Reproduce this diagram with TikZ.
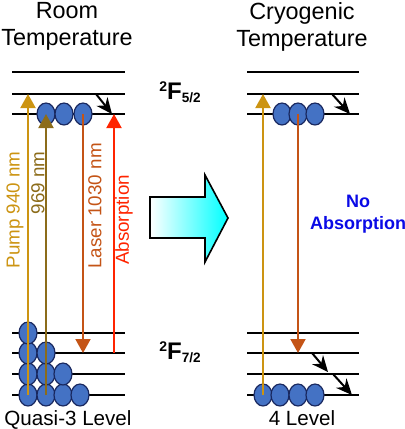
\documentclass[tikz,border=0pt]{standalone}
\usepackage{fontspec}
\setmainfont{Liberation Sans}
\usetikzlibrary{arrows.meta,shapes.geometric}
\definecolor{pumpgold}{RGB}{204,148,18}
\definecolor{oliveline}{RGB}{140,108,26}
\definecolor{laserbrown}{RGB}{196,84,22}
\definecolor{absred}{RGB}{255,36,0}
\definecolor{atomblue}{RGB}{68,114,196}
\definecolor{atomedge}{RGB}{25,40,95}
\definecolor{noblue}{RGB}{10,10,230}
\tikzset{
  level/.style={line width=1.2pt},
  atom/.style={ellipse,draw=atomedge,fill=atomblue,line width=0.6pt,minimum width=9pt,minimum height=11pt,inner sep=0pt},
  beam/.style={line width=1pt,-{Triangle[width=7.5pt,length=7pt]}},
  relax/.style={line width=1pt,-{Stealth[width=7pt,length=8pt]}},
  beamlabel/.style={rotate=90,inner sep=0pt,font=\fontsize{9.4}{10}\selectfont},
  term/.style={inner sep=0pt,font=\bfseries\fontsize{12}{12}\selectfont},
}
\newcommand{\termsym}[2]{{\fontsize{7}{7}\selectfont\raisebox{4pt}{#1}}F{\fontsize{6.8}{7}\selectfont\raisebox{-1.5pt}{#2}}}
\begin{document}
\begin{tikzpicture}[x=0.5pt,y=-0.5pt,font=\fontsize{11.7}{13.5}\selectfont]
\useasboundingbox (0,0) rectangle (405,429);
% titles
\node[align=center,anchor=north,inner sep=0pt] (tRoom) at (67,2) {Room\\Temperature};
\node[align=center,anchor=north,inner sep=0pt] (tCryo) at (302,2) {Cryogenic\\Temperature};
% energy levels
\foreach \y in {72,94,114,333,353,374,395}{
  \draw[level] (12,\y) -- (125,\y);
  \draw[level] (247,\y) -- (359,\y);
}
\node[term] (Fup) at (180,92) {\termsym{2}{5/2}};
\node[term] (Flow) at (180,352) {\termsym{2}{7/2}};
% room temperature: population
\node[atom] (u1) at (46,114) {};
\node[atom] (u2) at (64,114) {};
\node[atom] (u3) at (83,114) {};
\node[atom] (g41) at (28,395) {};
\node[atom] (g42) at (46,395) {};
\node[atom] (g43) at (63,395) {};
\node[atom] (g44) at (80,395) {};
\node[atom] (g31) at (28,374) {};
\node[atom] (g32) at (46,374) {};
\node[atom] (g33) at (63,374) {};
\node[atom] (g21) at (28,353) {};
\node[atom] (g22) at (46,353) {};
\node[atom] (g11) at (28,333) {};
% room temperature: transitions
\coordinate (pumpTip) at (28,94);
\coordinate (nineTip) at (46,114);
\coordinate (laserTip) at (83,353);
\coordinate (absFoot) at (114,353);
\coordinate (absTip) at (114,114);
\coordinate (relTop) at (96,94);
\coordinate (relBot) at (112,114);
\draw[beam,pumpgold] (g41.center) -- (pumpTip);
\draw[beam,oliveline] (g42.center) -- (nineTip);
\draw[beam,laserbrown] (u3.center) -- (laserTip);
\draw[beam,absred] (absFoot) -- (absTip);
\draw[relax] (relTop) -- (relBot);
\node[beamlabel,pumpgold] (lPump) at (15,210) {Pump 940 nm};
\node[beamlabel,oliveline] (lNine) at (38,183) {969 nm};
\node[beamlabel,laserbrown] (lLaser) at (95,206) {Laser 1030 nm};
\node[beamlabel,absred] (lAbs) at (124,220) {Absorption};
% big arrow
\shade[left color=white,right color=cyan,draw=black,line width=0.8pt]
  (150,197) -- (205,197) -- (205,175) -- (228,218) -- (205,262) -- (205,238) -- (150,238) -- cycle;
% cryogenic: population
\node[atom] (v1) at (282,114) {};
\node[atom] (v2) at (298,114) {};
\node[atom] (v3) at (315,114) {};
\node[atom] (h1) at (263,395) {};
\node[atom] (h2) at (280,395) {};
\node[atom] (h3) at (298,395) {};
\node[atom] (h4) at (315,395) {};
% cryogenic: transitions
\coordinate (cPumpTip) at (263,94);
\coordinate (cLaserTip) at (298,353);
\draw[beam,pumpgold] (h1.center) -- (cPumpTip);
\draw[beam,laserbrown] (v2.center) -- (cLaserTip);
\draw[relax] (332,94) coordinate (cr1) -- (350,114) coordinate (cr2);
\draw[relax] (312,353) coordinate (cr3) -- (328,372) coordinate (cr4);
\draw[relax] (333,374) coordinate (cr5) -- (352,395) coordinate (cr6);
\node[align=center,inner sep=0pt,text=noblue,font=\bfseries\fontsize{9}{11}\selectfont] (noAbs) at (358,214) {No\\Absorption};
% bottom labels
\node[anchor=base,inner sep=0pt,font=\fontsize{10.3}{11}\selectfont] (qLevel) at (68,425) {Quasi-3 Level};
\node[anchor=base,inner sep=0pt,font=\fontsize{10.3}{11}\selectfont] (fLevel) at (302,425) {4 Level};
\end{tikzpicture}
\end{document}
